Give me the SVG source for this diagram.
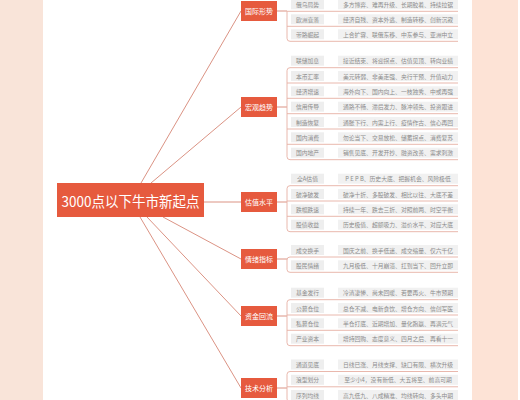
<svg xmlns="http://www.w3.org/2000/svg" width="520" height="400" viewBox="0 0 520 400">
<style>
.bg{fill:#ffffff}
.side{fill:#f9e4d9}
.panel{fill:#fde3d6}
.cat{fill:#e65a3e}
.cattx{fill:#ffffff;font-family:"Noto Sans CJK SC","Noto Sans",sans-serif;font-size:7px;text-anchor:middle;dominant-baseline:central}
.maintx{fill:#ffffff;font-family:"Noto Sans CJK SC","Noto Sans",sans-serif;font-size:14.5px;text-anchor:middle;dominant-baseline:central}
.lb{fill:#eeeeee}
.ct{fill:#f1f1f1}
.tx{fill:#8c8c8c;font-family:"Noto Sans CJK SC","Noto Sans",sans-serif;font-size:5.8px;text-anchor:middle;dominant-baseline:central}
.ln{fill:none;stroke:#db9384;stroke-width:1}
.ul{fill:none;stroke:#e7b0a4;stroke-width:0.9}
</style>
<rect class="bg" x="0" y="0" width="520" height="400"/>
<rect class="side" x="0" y="0" width="43" height="400"/>
<rect class="panel" x="472" y="0" width="46" height="400"/>

<g id="connectors">
<path class="ln" d="M141 183 L241 11"/>
<path class="ln" d="M151 183 L241 107"/>
<path class="ln" d="M204 202 L241 202"/>
<path class="ln" d="M163 217 L241 259"/>
<path class="ln" d="M147 217 L241 316"/>
<path class="ln" d="M140 217 L241 388"/>
<!-- 国际形势 -->
<path class="ln" d="M277 11 H287"/>
<path class="ul" d="M458 11.3 H287 V38.3 Q287 41.3 290 41.3 H458 M287 26.3 H458"/>
<!-- 宏观趋势 -->
<path class="ln" d="M277 107 H287"/>
<path class="ul" d="M458 67.7 H290 Q287 67.7 287 70.7 V156.7 Q287 159.7 290 159.7 H458 M287 83 H458 M287 98.3 H458 M287 113.7 H458 M287 129 H458 M287 144.3 H458"/>
<!-- 估值水平 -->
<path class="ln" d="M277 202 H287"/>
<path class="ul" d="M458 185.7 H290 Q287 185.7 287 188.7 V228.7 Q287 231.7 290 231.7 H458 M287 201 H458 M287 216.3 H458"/>
<!-- 情绪指标 -->
<path class="ln" d="M277 259 H287"/>
<path class="ul" d="M458 257 H290 Q287 257 287 260 V269.3 Q287 272.3 290 272.3 H458"/>
<!-- 资金回流 -->
<path class="ln" d="M277 316 H287"/>
<path class="ul" d="M458 299.7 H290 Q287 299.7 287 302.7 V342.7 Q287 345.7 290 345.7 H458 M287 315 H458 M287 330.3 H458"/>
<!-- 技术分析 -->
<path class="ln" d="M277 388 H287"/>
<path class="ul" d="M458 371.5 H290 Q287 371.5 287 374.5 V399 Q287 402 290 402 H458 M287 386.8 H458"/>
</g>

<g id="center">
<rect class="cat" x="57" y="183" width="147" height="34"/>
<text class="maintx" x="130.5" y="200" textLength="138" lengthAdjust="spacingAndGlyphs">3000点以下牛市新起点</text>
</g>

<g id="cat-guoji"><rect class="cat" x="241" y="1" width="36" height="20"/><text class="cattx" x="259" y="11">国际形势</text></g>
<g id="cat-hongguan"><rect class="cat" x="241" y="97" width="36" height="20"/><text class="cattx" x="259" y="107">宏观趋势</text></g>
<g id="cat-guzhi"><rect class="cat" x="241" y="192" width="36" height="20"/><text class="cattx" x="259" y="202">估值水平</text></g>
<g id="cat-qingxu"><rect class="cat" x="241" y="249" width="36" height="20"/><text class="cattx" x="259" y="259">情绪指标</text></g>
<g id="cat-zijin"><rect class="cat" x="241" y="306" width="36" height="20"/><text class="cattx" x="259" y="316">资金回流</text></g>
<g id="cat-jishu"><rect class="cat" x="241" y="378" width="36" height="20"/><text class="cattx" x="259" y="388">技术分析</text></g>

<!-- 国际形势 rows -->
<g id="r1"><rect class="lb" x="291" y="-0.7" width="33" height="10"/><text class="tx" x="307.5" y="4.3">俄乌局势</text><rect class="ct" x="338" y="-0.7" width="120" height="10"/><text class="tx" x="398" y="4.3">多方博弈、难再升级、长期胶着、持续拉锯</text></g>
<g id="r2"><rect class="lb" x="291" y="14.3" width="33" height="10"/><text class="tx" x="307.5" y="19.3">欧洲衰落</text><rect class="ct" x="338" y="14.3" width="120" height="10"/><text class="tx" x="398" y="19.3">经济自残、资本外逃、制造转移、创新沉寂</text></g>
<g id="r3"><rect class="lb" x="291" y="29.3" width="33" height="10"/><text class="tx" x="307.5" y="34.3">带路崛起</text><rect class="ct" x="338" y="29.3" width="120" height="10"/><text class="tx" x="398" y="34.3">上合扩容、联俄东移、中东参与、亚洲中立</text></g>

<!-- 宏观趋势 rows -->
<g id="r4"><rect class="lb" x="291" y="55.7" width="33" height="10"/><text class="tx" x="307.5" y="60.7">联储加息</text><rect class="ct" x="338" y="55.7" width="120" height="10"/><text class="tx" x="398" y="60.7">接近结束、将迎拐点、估值见顶、转向业绩</text></g>
<g id="r5"><rect class="lb" x="291" y="71" width="33" height="10"/><text class="tx" x="307.5" y="76">本币汇率</text><rect class="ct" x="338" y="71" width="120" height="10"/><text class="tx" x="398" y="76">美元转弱、非美走强、央行干预、升值动力</text></g>
<g id="r6"><rect class="lb" x="291" y="86.3" width="33" height="10"/><text class="tx" x="307.5" y="91.3">经济增速</text><rect class="ct" x="338" y="86.3" width="120" height="10"/><text class="tx" x="398" y="91.3">海外向下、国内向上、一枝独秀、中或再强</text></g>
<g id="r7"><rect class="lb" x="291" y="101.7" width="33" height="10"/><text class="tx" x="307.5" y="106.7">信用传导</text><rect class="ct" x="338" y="101.7" width="120" height="10"/><text class="tx" x="398" y="106.7">通路不畅、滞后发力、脉冲领先、投资跟进</text></g>
<g id="r8"><rect class="lb" x="291" y="117" width="33" height="10"/><text class="tx" x="307.5" y="122">制造恢复</text><rect class="ct" x="338" y="117" width="120" height="10"/><text class="tx" x="398" y="122">通胀下行、内需上行、疫情作古、信心再回</text></g>
<g id="r9"><rect class="lb" x="291" y="132.3" width="33" height="10"/><text class="tx" x="307.5" y="137.3">国内消费</text><rect class="ct" x="338" y="132.3" width="120" height="10"/><text class="tx" x="398" y="137.3">勿论当下、交易放松、储蓄拐点、消费复苏</text></g>
<g id="r10"><rect class="lb" x="291" y="147.7" width="33" height="10"/><text class="tx" x="307.5" y="152.7">国内地产</text><rect class="ct" x="338" y="147.7" width="120" height="10"/><text class="tx" x="398" y="152.7">销售见底、开发开抄、融资改善、需求刺激</text></g>

<!-- 估值水平 rows -->
<g id="r11"><rect class="lb" x="291" y="173.7" width="33" height="10"/><text class="tx" x="307.5" y="178.7">全A估值</text><rect class="ct" x="338" y="173.7" width="120" height="10"/><text class="tx" x="398" y="178.7">P E P B、历史大底、把握机会、风险极低</text></g>
<g id="r12"><rect class="lb" x="291" y="189" width="33" height="10"/><text class="tx" x="307.5" y="194">破净破发</text><rect class="ct" x="338" y="189" width="120" height="10"/><text class="tx" x="398" y="194">破净十折、多股破发、相比以往、大底不差</text></g>
<g id="r13"><rect class="lb" x="291" y="204.3" width="33" height="10"/><text class="tx" x="307.5" y="209.3">跌幅跌速</text><rect class="ct" x="338" y="204.3" width="120" height="10"/><text class="tx" x="398" y="209.3">持续一年、跌去三折、对照前两、时空平衡</text></g>
<g id="r14"><rect class="lb" x="291" y="219.7" width="33" height="10"/><text class="tx" x="307.5" y="224.7">股债收益</text><rect class="ct" x="338" y="219.7" width="120" height="10"/><text class="tx" x="398" y="224.7">历史极值、超额吸力、溢价水平、对应大底</text></g>

<!-- 情绪指标 rows -->
<g id="r15"><rect class="lb" x="291" y="245" width="33" height="10"/><text class="tx" x="307.5" y="250">成交换手</text><rect class="ct" x="338" y="245" width="120" height="10"/><text class="tx" x="398" y="250">国庆之前、换手低迷、成交缩量、仅六千亿</text></g>
<g id="r16"><rect class="lb" x="291" y="260.3" width="33" height="10"/><text class="tx" x="307.5" y="265.3">股民情绪</text><rect class="ct" x="338" y="260.3" width="120" height="10"/><text class="tx" x="398" y="265.3">九月极低、十月崩溃、扛到当下、回升立即</text></g>

<!-- 资金回流 rows -->
<g id="r17"><rect class="lb" x="291" y="287.7" width="33" height="10"/><text class="tx" x="307.5" y="292.7">基金发行</text><rect class="ct" x="338" y="287.7" width="120" height="10"/><text class="tx" x="398" y="292.7">冷清凄惨、尚未回暖、若要再火、牛市预期</text></g>
<g id="r18"><rect class="lb" x="291" y="303" width="33" height="10"/><text class="tx" x="307.5" y="308">公募仓位</text><rect class="ct" x="338" y="303" width="120" height="10"/><text class="tx" x="398" y="308">总仓不减、电新食饮、增仓方向、信创军医</text></g>
<g id="r19"><rect class="lb" x="291" y="318.3" width="33" height="10"/><text class="tx" x="307.5" y="323.3">私募仓位</text><rect class="ct" x="338" y="318.3" width="120" height="10"/><text class="tx" x="398" y="323.3">半仓打底、近期增加、量化跑赢、再满元气</text></g>
<g id="r20"><rect class="lb" x="291" y="333.7" width="33" height="10"/><text class="tx" x="307.5" y="338.7">产业资本</text><rect class="ct" x="338" y="333.7" width="120" height="10"/><text class="tx" x="398" y="338.7">增持回购、态度意义、四月之后、再看十一</text></g>

<!-- 技术分析 rows -->
<g id="r21"><rect class="lb" x="291" y="359.5" width="33" height="10"/><text class="tx" x="307.5" y="364.5">通道见底</text><rect class="ct" x="338" y="359.5" width="120" height="10"/><text class="tx" x="398" y="364.5">日线已涨、月线支撑、缺口有限、横次升级</text></g>
<g id="r22"><rect class="lb" x="291" y="374.8" width="33" height="10"/><text class="tx" x="307.5" y="379.8">浪型划分</text><rect class="ct" x="338" y="374.8" width="120" height="10"/><text class="tx" x="398" y="379.8">至少小4，没有新低、大五将至、前高可期</text></g>
<g id="r23"><rect class="lb" x="291" y="390" width="33" height="10"/><text class="tx" x="307.5" y="395">序列均线</text><rect class="ct" x="338" y="390" width="120" height="10"/><text class="tx" x="398" y="395">高九低九、八成精准、均线转向、多头中期</text></g>
</svg>
